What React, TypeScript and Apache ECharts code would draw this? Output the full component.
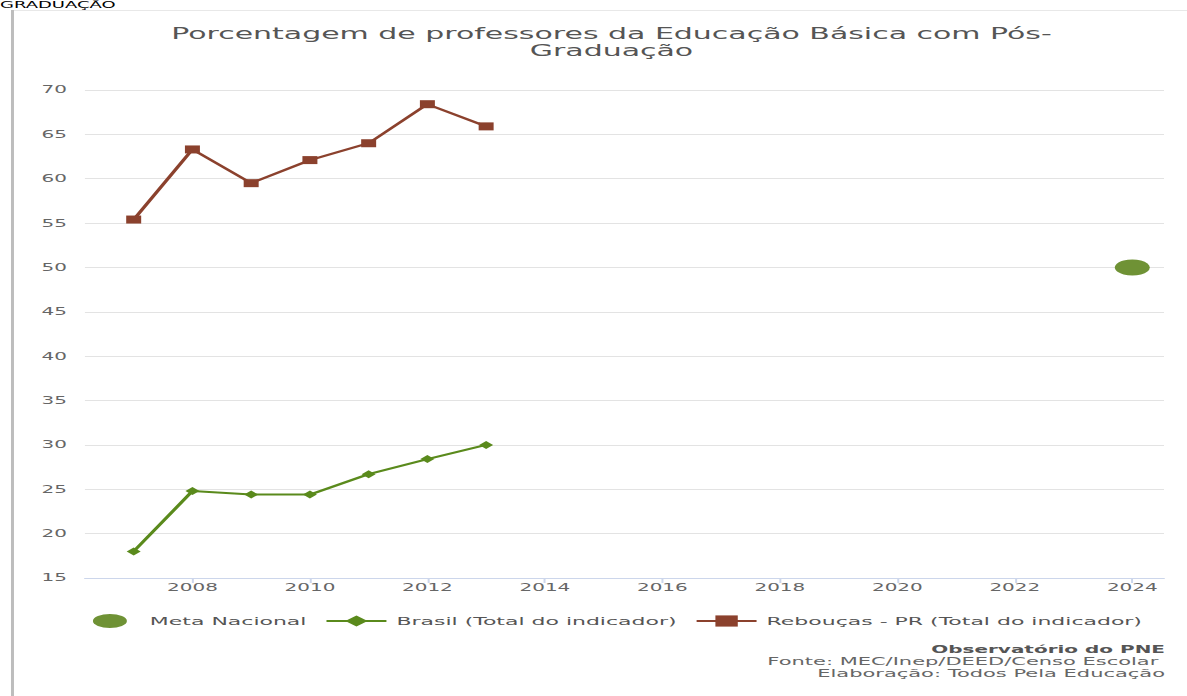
import React, { useEffect, useRef } from "react";
import * as echarts from "echarts";

const years = [2007, 2008, 2009, 2010, 2011, 2012, 2013];
const brasil = [18.0, 24.8, 24.4, 24.4, 26.7, 28.4, 30.0];
const reboucas = [55.4, 63.3, 59.5, 62.1, 64.0, 68.4, 65.9];
const metaYear = 2024;
const metaValue = 50;
const xTickYears = [2008, 2010, 2012, 2014, 2016, 2018, 2020, 2022, 2024];
const yMin = 15;
const yMax = 70;
const yStep = 5;

const titleText = "Porcentagem de professores da Educação Básica com Pós-\nGraduação";
const legendNames = ["Meta Nacional", "Brasil (Total do indicador)", "Rebouças - PR (Total do indicador)"];
const footerLines = ["Observatório do PNE", "Fonte: MEC/Inep/DEED/Censo Escolar ", "Elaboração: Todos Pela Educação"];

const W = 594;
const H = 696;
const SX = 1187 / W;
const FONT = "DejaVu Sans";

export default function App() {
  const ref = useRef<HTMLDivElement>(null);
  useEffect(() => {
    if (!ref.current) return;
    const chart = echarts.init(ref.current, null, { renderer: "svg" });
    chart.setOption({
      animation: false,
      backgroundColor: "#ffffff",
      title: {
        text: titleText,
        left: 306,
        textAlign: "center",
        top: 25,
        padding: 0,
        textStyle: { fontFamily: FONT, fontSize: 15, fontWeight: "normal", color: "#555555", lineHeight: 17 },
      },
      legend: {
        left: 41.5,
        top: 609,
        itemWidth: 30,
        itemHeight: 14,
        itemGap: 9,
        textStyle: { fontFamily: FONT, fontSize: 11, color: "#555555" },
        data: [
          { name: legendNames[0], icon: "path://M0,7 A8.5,7 0 1,0 17,7 A8.5,7 0 1,0 0,7 Z" },
          { name: legendNames[1] },
          { name: legendNames[2] },
        ],
      },
      grid: { left: 42.5, right: 11.5, top: 90, bottom: 118 },
      xAxis: {
        type: "value",
        min: 2006.17,
        max: 2024.54,
        splitLine: { show: false },
        axisLine: { show: true, lineStyle: { color: "#ccd6eb", width: 1 } },
        axisTick: { show: true, customValues: xTickYears, length: 5, lineStyle: { color: "#ccd6eb" } },
        axisLabel: {
          customValues: xTickYears,
          margin: 5,
          fontFamily: FONT,
          fontSize: 10,
          color: "#666666",
          formatter: (v: number) => String(Math.round(v)),
        },
      },
      yAxis: {
        type: "value",
        min: yMin,
        max: yMax,
        interval: yStep,
        axisLine: { show: false },
        axisTick: { show: false },
        splitLine: { lineStyle: { color: "#e3e3e3", width: 1 } },
        axisLabel: { margin: 9, fontFamily: FONT, fontSize: 10, color: "#666666" },
      },
      series: [
        {
          name: legendNames[0],
          type: "scatter",
          data: [[metaYear, metaValue]],
          symbol: "circle",
          symbolSize: [17.5, 16],
          itemStyle: { color: "#6f9235", opacity: 1 },
        },
        {
          name: legendNames[1],
          type: "line",
          data: years.map((y, i) => [y, brasil[i]]),
          symbol: "diamond",
          symbolSize: [7, 8],
          lineStyle: { color: "#5a8a1c", width: 2 },
          itemStyle: { color: "#5a8a1c" },
        },
        {
          name: legendNames[2],
          type: "line",
          data: years.map((y, i) => [y, reboucas[i]]),
          symbol: "rect",
          symbolSize: [7.5, 8],
          lineStyle: { color: "#8b412d", width: 2 },
          itemStyle: { color: "#8b412d" },
        },
      ],
      graphic: [
        { type: "rect", shape: { x: 5.5, y: 10, width: 1.5, height: 686 }, style: { fill: "#bdbdbd" }, silent: true },
        { type: "rect", shape: { x: 7, y: 10, width: 588, height: 1 }, style: { fill: "#e8e8e8" }, silent: true },
        {
          type: "text",
          x: 0,
          y: 0,
          style: { text: "GRADUAÇÃO", fontFamily: FONT, fontSize: 9, fill: "#000000", verticalAlign: "top" },
          silent: true,
        },
        {
          type: "text",
          x: 583,
          y: 650,
          style: { text: footerLines[0], fontFamily: FONT, fontSize: 10, fontWeight: "bold", fill: "#555555", align: "right", verticalAlign: "middle" },
        },
        {
          type: "text",
          x: 583,
          y: 662,
          style: { text: footerLines[1], fontFamily: FONT, fontSize: 10.5, fill: "#666666", align: "right", verticalAlign: "middle" },
        },
        {
          type: "text",
          x: 583,
          y: 673.5,
          style: { text: footerLines[2], fontFamily: FONT, fontSize: 10.5, fill: "#666666", align: "right", verticalAlign: "middle" },
        },
      ],
    });
    return () => chart.dispose();
  }, []);
  return (
    <div
      ref={ref}
      style={{
        position: "absolute",
        left: 0,
        top: 0,
        width: W,
        height: H,
        transform: `scaleX(${SX})`,
        transformOrigin: "0 0",
      }}
    />
  );
}
